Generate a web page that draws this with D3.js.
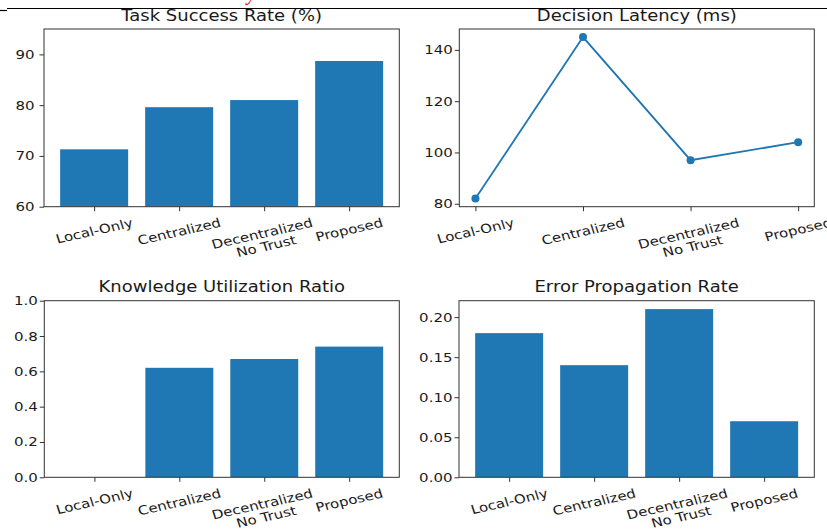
<!DOCTYPE html>
<html>
<head>
<meta charset="utf-8">
<script src="https://cdn.jsdelivr.net/npm/d3@7"></script>
<style>
  html, body { margin: 0; padding: 0; background: #fff; }
  svg { display: block; }
  text { font-family: "DejaVu Sans", sans-serif; fill: #1a1a1a; }
</style>
</head>
<body>
<svg id="fig" width="827" height="529"></svg>
<script>
// Methods compared in every panel
const categories = ["Local-Only", "Centralized", "Decentralized\nNo Trust", "Proposed"];

// Metric values per method
const taskSuccess = [71.3, 79.6, 81.0, 88.7];
const decisionLatency = [82, 145, 97, 104];
const knowledgeUtil = [0.0, 0.62, 0.67, 0.74];
const errorPropagation = [0.18, 0.14, 0.21, 0.07];

// Tick labels on the value axes
const successTicks = [60, 70, 80, 90];
const latencyTicks = [80, 100, 120, 140];
const utilTicks = [0.0, 0.2, 0.4, 0.6, 0.8, 1.0];
const errorTicks = [0.00, 0.05, 0.10, 0.15, 0.20];

const BLUE = "#1f77b4";
const SX = 1.2;          // figure text is drawn slightly wide
const TICK_FS = 12.5;
const TITLE_FS = 15;
const svg = d3.select("#fig");

// Rule and cut-off header remnant along the top edge
svg.append("line").attr("x1", 7).attr("x2", 827).attr("y1", 8.5).attr("y2", 8.5)
  .attr("stroke", "#000").attr("stroke-width", 1.2);
svg.append("line").attr("x1", 0).attr("x2", 7).attr("y1", 10.5).attr("y2", 10.5)
  .attr("stroke", "#000").attr("stroke-width", 1.2);
svg.append("text").attr("x", 247).attr("y", 0)
  .style("font-family", "Liberation Serif").style("font-style", "italic")
  .style("font-size", "20px").style("fill", "#e00000").text("y");

function panel(opts) {
  const { left, right, top, bottom, title, kind, values, yDomain, yTicks, fmt, labelGap } = opts;
  const g = svg.append("g");
  const n = values.length;

  // x scale over category index, with matplotlib-style 5% margins
  let xd;
  if (kind === "bar") {
    const lo = -0.4, hi = n - 1 + 0.4, m = (hi - lo) * 0.05;
    xd = [lo - m, hi + m];
  } else {
    const m = (n - 1) * 0.05;
    xd = [-m, n - 1 + m];
  }
  const x = d3.scaleLinear().domain(xd).range([left, right]);
  const y = d3.scaleLinear().domain(yDomain).range([bottom, top]);

  // marks
  const clip = "clip" + Math.round(left) + "_" + Math.round(top);
  g.append("clipPath").attr("id", clip).append("rect")
    .attr("x", left).attr("y", top).attr("width", right - left).attr("height", bottom - top);
  const marks = g.append("g").attr("clip-path", `url(#${clip})`);
  if (kind === "bar") {
    const base = yDomain[0] > 0 ? yDomain[0] : 0;
    const bw = x(0.4) - x(-0.4);
    marks.selectAll("rect.bar").data(values).enter().append("rect")
      .attr("class", "bar")
      .attr("x", (d, i) => x(i) - bw / 2)
      .attr("width", bw)
      .attr("y", d => Math.min(y(d), y(base)))
      .attr("height", d => Math.abs(y(base) - y(d)))
      .attr("fill", BLUE);
  } else {
    const line = d3.line().x((d, i) => x(i)).y(d => y(d));
    marks.append("path").datum(values).attr("d", line)
      .attr("fill", "none").attr("stroke", BLUE).attr("stroke-width", 1.8);
    marks.selectAll("circle").data(values).enter().append("circle")
      .attr("cx", (d, i) => x(i)).attr("cy", d => y(d)).attr("r", 4).attr("fill", BLUE);
  }

  // frame
  g.append("rect").attr("x", left).attr("y", top)
    .attr("width", right - left).attr("height", bottom - top)
    .attr("fill", "none").attr("stroke", "#333").attr("stroke-width", 1);

  // y axis
  const yAxis = d3.axisLeft(y).tickValues(yTicks).tickFormat(fmt).tickSizeOuter(0).tickSize(4.5);
  const ya = g.append("g").attr("transform", `translate(${left},0)`).call(yAxis);
  ya.select(".domain").remove();
  ya.selectAll(".tick line").attr("stroke", "#333");
  ya.selectAll(".tick text")
    .attr("x", -labelGap / SX).attr("transform", `scale(${SX},1)`)
    .style("font-size", TICK_FS + "px").style("font-family", "DejaVu Sans").attr("fill", "#1a1a1a");

  // x axis ticks
  const xAxis = d3.axisBottom(x).tickValues(d3.range(n)).tickFormat("").tickSizeOuter(0).tickSize(4.5);
  const xa = g.append("g").attr("transform", `translate(0,${bottom})`).call(xAxis);
  xa.select(".domain").remove();
  xa.selectAll(".tick line").attr("stroke", "#333");

  // rotated category labels: bounding box top-centred under each tick
  const y0 = bottom + 8.5;
  categories.forEach((c, i) => {
    const outer = g.append("g").attr("transform", `translate(${x(i)},${y0})`);
    const inner = outer.append("g").attr("transform", `scale(${SX},1) rotate(-15)`);
    const t = inner.append("text").attr("text-anchor", "middle").style("font-size", TICK_FS + "px");
    c.split("\n").forEach((s, k) => {
      t.append("tspan").attr("x", 0).attr("dy", k === 0 ? 0 : "1.05em").text(s);
    });
    const bb = outer.node().getBBox();
    outer.attr("transform", `translate(${x(i) - (bb.x + bb.width / 2)},${y0 - bb.y})`);
  });

  // title
  g.append("text").attr("transform", `translate(${(left + right) / 2},${top - 8.5}) scale(${SX},1)`)
    .attr("text-anchor", "middle").style("font-size", TITLE_FS + "px").text(title);
}

panel({ left: 44, right: 399.3, top: 29, bottom: 206.7, title: "Task Success Rate (%)",
  kind: "bar", values: taskSuccess, yDomain: [60, 95], yTicks: successTicks, fmt: d3.format("d"), labelGap: 9.5 });

const latMin = d3.min(decisionLatency), latMax = d3.max(decisionLatency), latM = (latMax - latMin) * 0.05;
panel({ left: 459.3, right: 814.3, top: 29, bottom: 206.7, title: "Decision Latency (ms)",
  kind: "line", values: decisionLatency, yDomain: [latMin - latM, latMax + latM], yTicks: latencyTicks, fmt: d3.format("d"), labelGap: 6.5 });

panel({ left: 44.3, right: 399.3, top: 300.7, bottom: 477.3, title: "Knowledge Utilization Ratio",
  kind: "bar", values: knowledgeUtil, yDomain: [0, 1], yTicks: utilTicks, fmt: d3.format(".1f"), labelGap: 6.5 });

panel({ left: 459, right: 814.3, top: 300.7, bottom: 477.3, title: "Error Propagation Rate",
  kind: "bar", values: errorPropagation, yDomain: [0, d3.max(errorPropagation) * 1.05], yTicks: errorTicks, fmt: d3.format(".2f"), labelGap: 6.5 });
</script>
</body>
</html>
